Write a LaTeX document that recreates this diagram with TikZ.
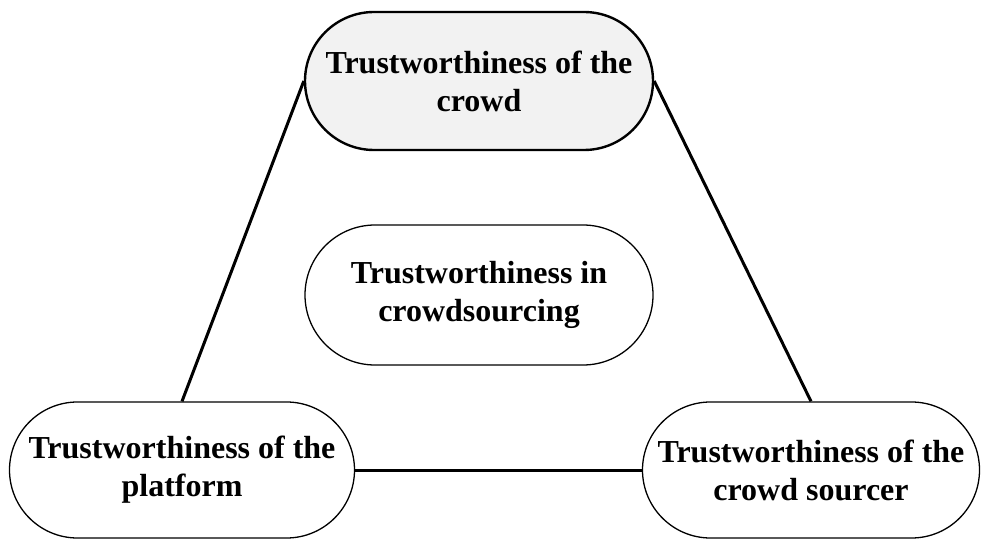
\documentclass[tikz,border=0pt]{standalone}
\usepackage{fontspec}
\setmainfont{Liberation Serif}
\usetikzlibrary{shapes.misc}
\tikzset{
  pill/.style={rounded rectangle, draw=black, line width=1.3pt, fill=white,
    minimum height=136pt, inner sep=0pt, align=center,
    font=\fontsize{32}{38}\selectfont\bfseries},
  link/.style={line width=3pt, black}
}
\begin{document}
\begin{tikzpicture}[x=1pt,y=-1pt]
  \useasboundingbox (0,0) rectangle (982,540);
  % the four trust aspects
  \node[pill, minimum width=348pt, minimum height=138pt, fill=gray!10, line width=2.4pt] (crowd) at (479,81) {Trustworthiness of the\\crowd};
  \node[pill, minimum width=348pt, minimum height=140pt] (core) at (479,295) {Trustworthiness in\\crowdsourcing};
  \node[pill, minimum width=345pt] (platform) at (182,470) {Trustworthiness of the\\platform};
  \node[pill, minimum width=337pt] (sourcer) at (811,470) {Trustworthiness of the\\crowd sourcer};
  % connecting triangle
  \draw[link] (platform.north) -- (crowd.west);
  \draw[link] (crowd.east) -- (sourcer.north);
  \draw[link] (platform.east) -- (sourcer.west);
\end{tikzpicture}
\end{document}
